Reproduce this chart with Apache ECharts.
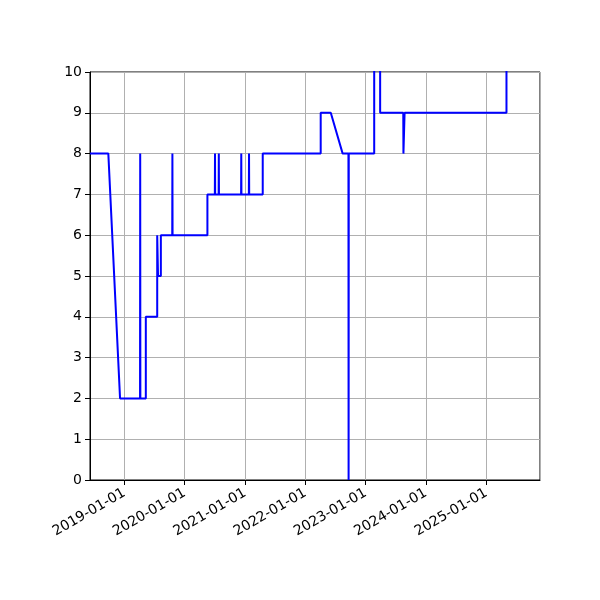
<!DOCTYPE html>
<html>
<head>
<meta charset="utf-8">
<script src="https://cdn.jsdelivr.net/npm/echarts@6/dist/echarts.min.js"></script>
<style>
html,body{margin:0;padding:0;background:#fff;}
#c{width:600px;height:600px;}
</style>
</head>
<body>
<div id="c"></div>
<script>
// Data
const dates = [
  '2018-06-07','2018-09-26','2018-12-06',
  '2019-04-06','2019-04-07','2019-04-08',
  '2019-05-11','2019-05-11',
  '2019-07-19','2019-07-19','2019-07-24','2019-07-24','2019-08-10','2019-08-10',
  '2019-10-18','2019-10-19','2019-10-20',
  '2020-05-18','2020-05-18',
  '2020-07-02','2020-07-03','2020-07-04',
  '2020-07-25','2020-07-26','2020-07-27',
  '2020-12-08','2020-12-09','2020-12-10',
  '2021-01-24','2021-01-25','2021-01-26',
  '2021-04-18','2021-04-18',
  '2022-04-04','2022-04-04','2022-06-04','2022-08-15',
  '2022-09-19','2022-09-20','2022-09-21',
  '2023-02-22','2023-02-22','2023-03-30','2023-03-30',
  '2023-08-17','2023-08-18','2023-08-24','2023-08-25',
  '2025-05-03','2025-05-03','2025-11-22'
];
const values = [
  8,8,2,
  2,8,2,
  2,4,
  4,6,6,5,5,6,
  6,8,6,
  6,7,
  7,8,7,
  7,8,7,
  7,8,7,
  7,8,7,
  7,8,
  8,9,9,8,
  8,0,8,
  8,12,12,9,
  9,8,8,9,
  9,12,12
];
const xMin = '2018-06-07';
const xMax = '2025-11-22';
const yTicks = [0,1,2,3,4,5,6,7,8,9,10];

const chart = echarts.init(document.getElementById('c'), null, {renderer: 'canvas'});
const font = 'DejaVu Sans';
const DAY = 86400000;
chart.setOption({
  animation: false,
  backgroundColor: '#ffffff',
  grid: {left: 90, right: 60, top: 72, bottom: 120, show: true, borderColor: '#000', borderWidth: 1, backgroundColor: 'transparent'},
  xAxis: {
    type: 'time',
    min: xMin,
    max: xMax,
    minInterval: 365 * DAY,
    maxInterval: 366 * DAY,
    axisLine: {lineStyle: {color: '#000', width: 1}},
    axisTick: {show: true, length: 5, lineStyle: {color: '#000'}},
    splitLine: {show: true, lineStyle: {color: '#b0b0b0', width: 1}},
    axisLabel: {
      rotate: 30,
      margin: 12,
      color: '#000',
      fontFamily: font,
      fontSize: 14,
      formatter: '{yyyy}-{MM}-{dd}',
      showMinLabel: false,
      showMaxLabel: false
    }
  },
  yAxis: {
    type: 'value',
    min: yTicks[0],
    max: yTicks[yTicks.length - 1],
    interval: 1,
    axisLine: {show: true, lineStyle: {color: '#000', width: 1}},
    axisTick: {show: true, length: 5, lineStyle: {color: '#000'}},
    splitLine: {show: true, lineStyle: {color: '#b0b0b0', width: 1}},
    axisLabel: {color: '#000', fontFamily: font, fontSize: 14, margin: 8}
  },
  series: [{
    type: 'line',
    data: dates.map((d, i) => [d, values[i]]),
    showSymbol: false,
    symbol: 'none',
    clip: true,
    lineStyle: {color: '#0000ff', width: 2},
    z: 3
  }]
});
</script>
</body>
</html>
